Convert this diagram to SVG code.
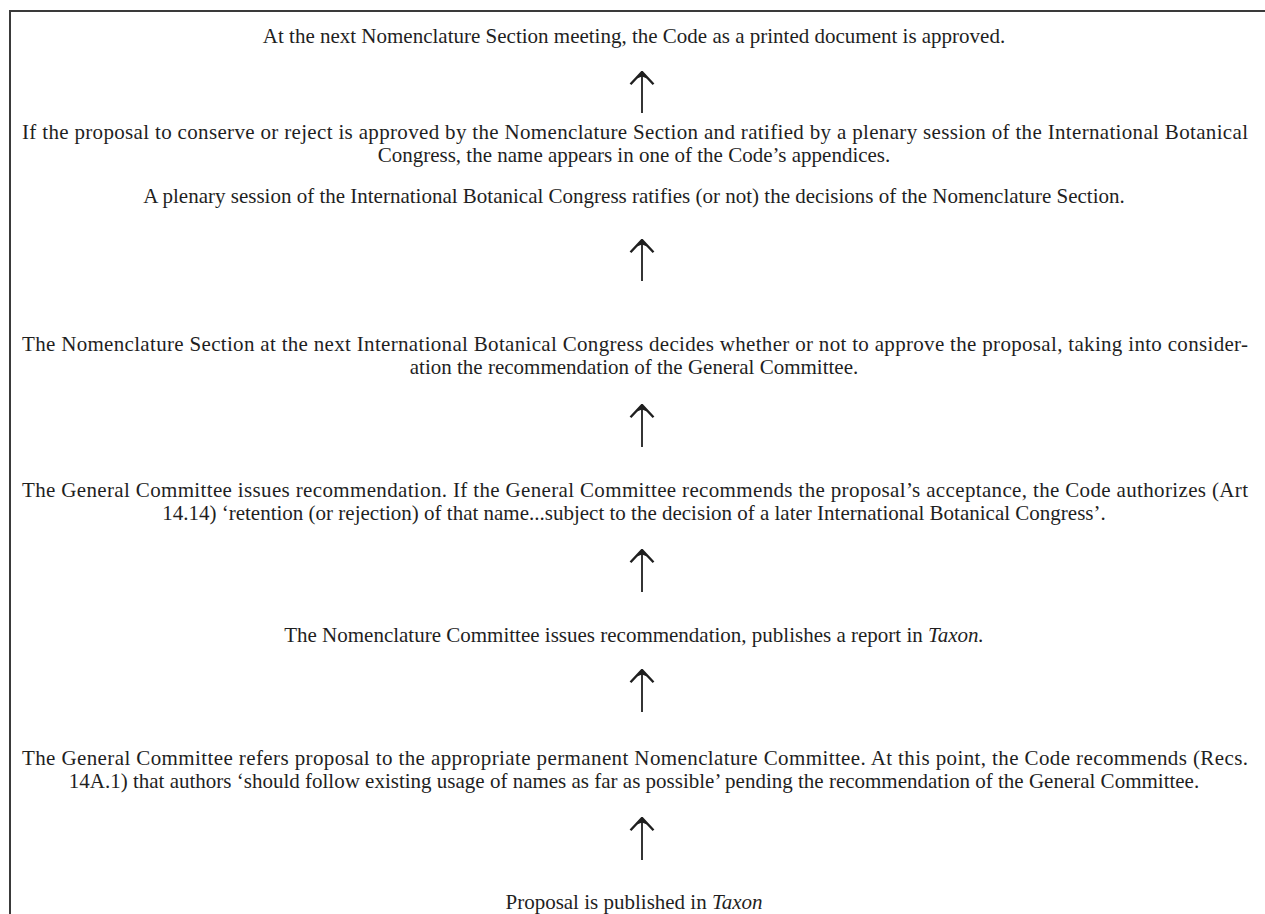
<svg xmlns="http://www.w3.org/2000/svg" width="1265" height="914" viewBox="0 0 1265 914">
<style>
  text { font-family: "Liberation Serif", "Times New Roman", serif; font-size: 21px; fill: #1f1f1f; }
  .c { text-anchor: middle; }
  .it { font-style: italic; }
  .frame { stroke: #3a3a3a; stroke-width: 2; fill: none; }
  .arr { stroke: #1f1f1f; stroke-width: 1.8; fill: none; marker-end: url(#head); }
</style>
<defs>
  <marker id="head" viewBox="0 0 15 26" refX="13.5" refY="13" markerWidth="15" markerHeight="26" markerUnits="userSpaceOnUse" orient="auto">
    <path d="M1.2,1.5 L13.5,13 L1.2,24.5" stroke="#1f1f1f" stroke-width="2.4" fill="none" stroke-linejoin="miter"/>
    <path d="M13.5,13 L7,8 L9,13 L7,18 Z" fill="#1f1f1f"/>
  </marker>
</defs>
<rect width="1265" height="914" fill="#ffffff"/>
<g id="frame">
  <path class="frame" d="M10,914 L10,11 L1265,11"/>
</g>
<g id="n1">
  <text class="c" x="634" y="43">At the next Nomenclature Section meeting, the Code as a printed document is approved.</text>
</g>
<g id="n2">
  <text x="22" y="139" textLength="1226" lengthAdjust="spacing">If the proposal to conserve or reject is approved by the Nomenclature Section and ratified by a plenary session of the International Botanical</text>
  <text class="c" x="634" y="162">Congress, the name appears in one of the Code’s appendices.</text>
</g>
<g id="n3">
  <text class="c" x="634" y="203">A plenary session of the International Botanical Congress ratifies (or not) the decisions of the Nomenclature Section.</text>
</g>
<g id="n4">
  <text x="22" y="351" textLength="1226" lengthAdjust="spacing">The Nomenclature Section at the next International Botanical Congress decides whether or not to approve the proposal, taking into consider-</text>
  <text class="c" x="634" y="374">ation the recommendation of the General Committee.</text>
</g>
<g id="n5">
  <text x="22" y="497" textLength="1226" lengthAdjust="spacing">The General Committee issues recommendation. If the General Committee recommends the proposal’s acceptance, the Code authorizes (Art</text>
  <text class="c" x="634" y="520">14.14) ‘retention (or rejection) of that name...subject to the decision of a later International Botanical Congress’.</text>
</g>
<g id="n6">
  <text class="c" x="634" y="642">The Nomenclature Committee issues recommendation, publishes a report in <tspan class="it">Taxon.</tspan></text>
</g>
<g id="n7">
  <text x="22" y="765" textLength="1226" lengthAdjust="spacing">The General Committee refers proposal to the appropriate permanent Nomenclature Committee. At this point, the Code recommends (Recs.</text>
  <text class="c" x="634" y="788">14A.1) that authors ‘should follow existing usage of names as far as possible’ pending the recommendation of the General Committee.</text>
</g>
<g id="n8">
  <text class="c" x="634" y="909">Proposal is published in <tspan class="it">Taxon</tspan></text>
</g>
<g id="connectors">
  <line class="arr" x1="642" y1="113" x2="642" y2="72"/>
  <line class="arr" x1="642" y1="281" x2="642" y2="240"/>
  <line class="arr" x1="642" y1="447" x2="642" y2="405"/>
  <line class="arr" x1="642" y1="592" x2="642" y2="550"/>
  <line class="arr" x1="642" y1="712" x2="642" y2="670"/>
  <line class="arr" x1="642" y1="860" x2="642" y2="818"/>
</g>
</svg>
